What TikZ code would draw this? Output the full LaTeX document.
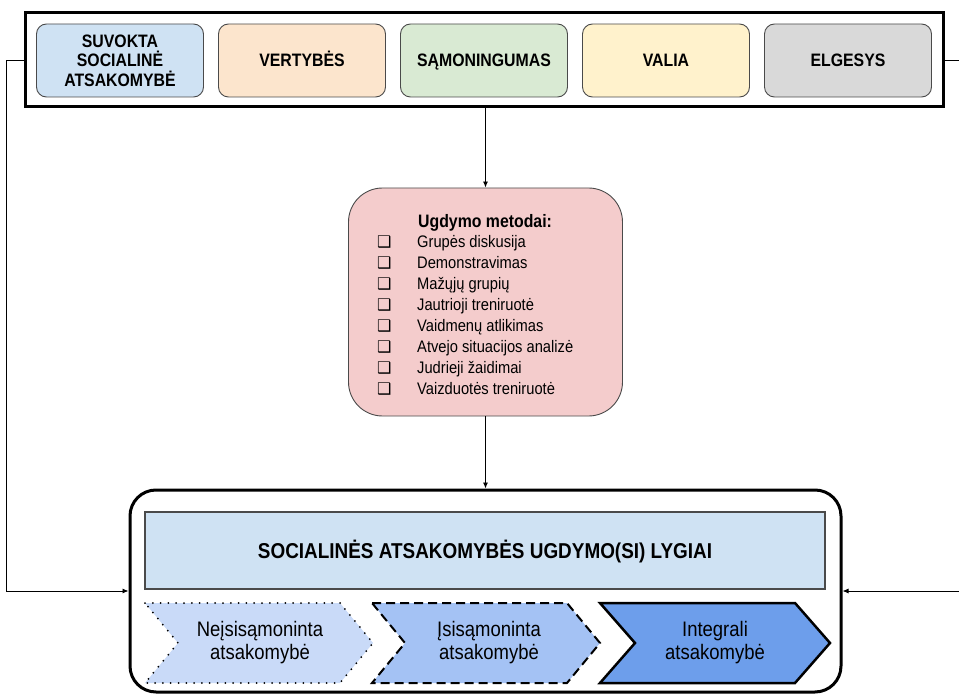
\documentclass[tikz,border=0pt]{standalone}
\usepackage{fontspec}
\setmainfont{Liberation Sans}[FakeStretch=0.88]
\newfontfamily\symfont{DejaVu Sans}
\usetikzlibrary{arrows.meta}

\definecolor{cBlue}{HTML}{CFE2F3}
\definecolor{cOrange}{HTML}{FCE5CD}
\definecolor{cGreen}{HTML}{D9EAD3}
\definecolor{cYellow}{HTML}{FFF2CC}
\definecolor{cGray}{HTML}{D9D9D9}
\definecolor{cPink}{HTML}{F4CCCC}
\definecolor{cLevelA}{HTML}{C9DAF8}
\definecolor{cLevelB}{HTML}{A4C2F4}
\definecolor{cLevelC}{HTML}{6D9EEB}
\definecolor{cEdge}{HTML}{4A4A4A}

\tikzset{
  frame/.style={draw=black, line width=3pt},
  topbox/.style={draw=cEdge, line width=0.9pt, rounded corners=10pt,
    minimum width=167pt, minimum height=73pt, inner sep=0pt, align=center,
    font=\fontsize{18}{19.5}\selectfont\bfseries},
  oneline/.style={text height=12.9pt, text depth=0pt},
  conn/.style={draw=black, line width=0.9pt, -{Latex[length=6pt,width=5pt]}},
  itemtext/.style={inner sep=0pt, anchor=base west, font=\fontsize{16.7}{18}\selectfont},
  bulletmark/.style={inner sep=0pt, anchor=base west, font=\symfont\fontsize{16}{16}\selectfont},
  leveltext/.style={align=center, inner sep=0pt, font=\fontsize{21}{23}\selectfont}
}

\begin{document}
\begin{tikzpicture}[x=1pt, y=-1pt]
\useasboundingbox (0,0) rectangle (959,695);

% top band with the five components
\node[frame, minimum width=918pt, minimum height=94pt, inner sep=0pt] (top) at (484,60) {};
\node[topbox, fill=cBlue]   (b1) at (120,60.5) {SUVOKTA\\SOCIALINĖ\\ATSAKOMYBĖ};
\node[topbox, oneline, fill=cOrange] (b2) at (302,60.5) {VERTYBĖS};
\node[topbox, oneline, fill=cGreen]  (b3) at (484,60.5) {SĄMONINGUMAS};
\node[topbox, oneline, fill=cYellow] (b4) at (666,60.5) {VALIA};
\node[topbox, oneline, fill=cGray]   (b5) at (848,60.5) {ELGESYS};

% education methods
\node[draw=cEdge, line width=0.9pt, fill=cPink, rounded corners=34pt,
      minimum width=274pt, minimum height=228pt, inner sep=0pt] (methods) at (485.5,302) {};
\node[inner sep=0pt, anchor=base west, font=\fontsize{18}{19}\selectfont\bfseries]
  (mhead) at (418,227.5) {Ugdymo metodai:};
\foreach \t [count=\i] in {Grupės diskusija, Demonstravimas, Mažųjų grupių,
    Jautrioji treniruotė, Vaidmenų atlikimas, Atvejo situacijos analizė,
    Judrieji žaidimai, Vaizduotės treniruotė} {
  \node[itemtext] (item\i) at (417,{227+20.9*\i}) {\t};
  \node[bulletmark] (mark\i) at (377,{227+20.9*\i}) {❑};
}

% levels frame
\node[frame, rounded corners=26pt, minimum width=711pt, minimum height=202pt,
      inner sep=0pt] (levels) at (485.5,591) {};
\node[draw=cEdge, line width=1.3pt, fill=cBlue, minimum width=680pt, minimum height=77pt,
      inner sep=0pt, text height=15.4pt, text depth=0pt,
      font=\fontsize{21.5}{22}\selectfont\bfseries] (title) at (485,550.5)
  {SOCIALINĖS ATSAKOMYBĖS UGDYMO(SI) LYGIAI};

% level chevrons
\fill[cLevelA] (145,603) -- (340,603) -- (373,643) -- (340,683) -- (145,683) -- (178,643) -- cycle;
\draw[black, line width=2pt, line cap=round, dash pattern=on 0pt off 7.8pt]
  (145,603) -- (340,603) -- (373,643) -- (340,683) -- (145,683) -- (178,643) -- cycle;
\draw[black, line width=2pt, fill=cLevelB, dash pattern=on 9pt off 5pt]
  (372,603) -- (567,603) -- (600,643) -- (567,683) -- (372,683) -- (405,643) -- cycle;
\draw[black, line width=2.5pt, fill=cLevelC, line join=miter]
  (600,603) -- (795,603) -- (830,643) -- (795,683) -- (600,683) -- (635,643) -- cycle;
\node[leveltext] (lv1) at (260,643) {Neįsisąmoninta\\atsakomybė};
\node[leveltext] (lv2) at (489,643) {Įsisąmoninta\\atsakomybė};
\node[leveltext] (lv3) at (715,643) {Integrali\\atsakomybė};

% connectors
\draw[conn] (top.south -| methods.north) -- (methods.north);
\draw[conn] (methods.south) -- (methods.south |- levels.north);
\draw[conn] (top.west) -- ++(-17,0) |- (levels.west);
\draw[conn] (top.east) -- ++(20,0) |- (levels.east);
\end{tikzpicture}
\end{document}
